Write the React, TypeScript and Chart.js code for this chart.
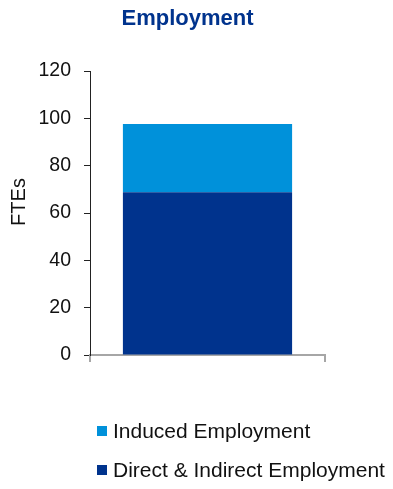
import React, { useEffect, useRef } from "react";
import { Chart, registerables } from "chart.js";

Chart.register(...registerables);

const categories = [""];
const directIndirect = [68.8];
const induced = [28.8];
const yTicks = [0, 20, 40, 60, 80, 100, 120];

const DARK_BLUE = "#00338D";
const LIGHT_BLUE = "#0091DA";
const FONT = "Liberation Sans, Arial, sans-serif";

// Title, vertical axis caption and stacked legend are painted on the canvas
const overlayPlugin = {
  id: "overlay",
  afterDraw(chart: Chart) {
    const ctx = chart.ctx;
    ctx.save();
    ctx.fillStyle = DARK_BLUE;
    ctx.font = `bold 22px ${FONT}`;
    ctx.textAlign = "center";
    ctx.textBaseline = "middle";
    ctx.fillText("Employment", 187.5, 19);

    ctx.save();
    ctx.translate(19.5, 202);
    ctx.rotate(-Math.PI / 2);
    ctx.fillStyle = "#111";
    ctx.font = `20px ${FONT}`;
    ctx.fillText("FTEs", 0, 0);
    ctx.restore();

    const items = [...chart.data.datasets].reverse();
    const rows = [431, 470];
    ctx.textAlign = "left";
    ctx.font = `21px ${FONT}`;
    items.forEach((ds: any, i: number) => {
      const y = rows[i];
      ctx.fillStyle = ds.backgroundColor;
      ctx.fillRect(97, y - 5, 10, 10);
      ctx.fillStyle = "#111";
      ctx.fillText(ds.label, 113, y + 1);
    });
    ctx.restore();
  },
};

export default function App() {
  const ref = useRef<HTMLCanvasElement>(null);

  useEffect(() => {
    if (!ref.current) return;
    const chart = new Chart(ref.current, {
      type: "bar",
      data: {
        labels: categories,
        datasets: [
          {
            label: "Direct & Indirect Employment",
            data: directIndirect,
            backgroundColor: DARK_BLUE,
            categoryPercentage: 1,
            barPercentage: 0.72,
          },
          {
            label: "Induced Employment",
            data: induced,
            backgroundColor: LIGHT_BLUE,
            categoryPercentage: 1,
            barPercentage: 0.72,
          },
        ],
      },
      options: {
        animation: false,
        responsive: false,
        layout: { padding: { top: 71, left: 0, right: 68, bottom: 124 } },
        plugins: {
          legend: { display: false },
          title: { display: false },
          tooltip: { enabled: false },
        },
        scales: {
          x: {
            stacked: true,
            afterFit: (scale: any) => {
              scale.height = 10;
            },
            grid: {
              drawOnChartArea: false,
              drawTicks: true,
              tickLength: 7,
              color: "#a6a6a6",
              lineWidth: 2,
            },
            border: { color: "#a6a6a6", width: 2 },
            ticks: { display: false },
          },
          y: {
            stacked: true,
            min: 0,
            max: 120,
            afterFit: (scale: any) => {
              scale.width = 90;
            },
            afterBuildTicks: (scale: any) => {
              scale.ticks = yTicks.map((v) => ({ value: v }));
            },
            grid: {
              drawOnChartArea: false,
              drawTicks: true,
              tickLength: 6,
              color: "#222",
            },
            border: { color: "#222", width: 1 },
            ticks: {
              color: "#111",
              padding: 13,
              font: { family: FONT, size: 19.5 },
            },
          },
        },
      },
      plugins: [overlayPlugin],
    });
    return () => chart.destroy();
  }, []);

  return (
    <div style={{ position: "absolute", left: 0, top: 0, width: 393, height: 489, background: "#fff" }}>
      <canvas ref={ref} width={393} height={489} style={{ width: 393, height: 489 }} />
    </div>
  );
}
